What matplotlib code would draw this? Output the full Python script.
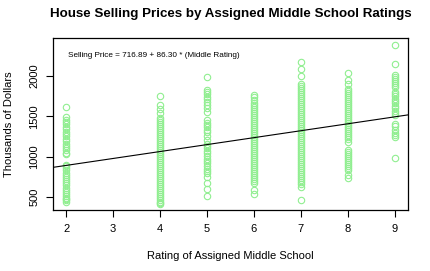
import numpy as np
import matplotlib
matplotlib.use('Agg')
import matplotlib.pyplot as plt
from matplotlib.ticker import FixedLocator

plt.rcParams['font.family'] = ['Liberation Sans', 'DejaVu Sans']

# selling prices (thousands of dollars), grouped by middle school rating
price_r2 = [1615, 1490, 1460, 1430, 1400, 1370, 1340, 1310, 1280, 1250, 1220, 1190, 1160,
            1130, 1100, 1075, 1050, 1035, 900, 880, 855, 830, 800, 775, 750, 720, 695,
            665, 640, 610, 585, 560, 540, 515, 490, 470, 455, 440]
price_r4 = [1747, 1636, 1591, 1541, 1484, 1460, 1435, 1410, 1385, 1360, 1335, 1310, 1285,
            1260, 1235, 1210, 1185, 1160, 1135, 1110, 1085, 1060, 1035, 1010, 985, 960,
            935, 910, 885, 860, 835, 810, 785, 760, 735, 710, 685, 660, 635, 610, 585,
            560, 535, 510, 485, 460, 440, 420, 405]
price_r5 = [1986, 1830, 1805, 1775, 1745, 1710, 1680, 1640, 1600, 1553, 1451, 1420, 1395,
            1365, 1330, 1300, 1250, 1205, 1160, 1130, 1100, 1070, 1040, 1010, 975, 945,
            915, 880, 850, 820, 790, 751, 669, 595, 512]
price_r6 = [1768, 1735, 1698, 1670, 1645, 1620, 1595, 1570, 1545, 1520, 1495, 1470, 1445,
            1420, 1395, 1370, 1345, 1320, 1295, 1270, 1245, 1220, 1195, 1170, 1145, 1120,
            1095, 1070, 1045, 1020, 995, 970, 945, 920, 895, 870, 845, 820, 795, 770, 745,
            720, 695, 669, 586, 537]
price_r7 = [2171, 2089, 2007, 1904, 1880, 1855, 1830, 1805, 1780, 1755, 1730, 1705, 1680,
            1655, 1630, 1605, 1580, 1555, 1530, 1505, 1480, 1455, 1430, 1405, 1380, 1355,
            1330, 1305, 1280, 1255, 1230, 1205, 1180, 1155, 1130, 1105, 1080, 1055, 1030,
            1005, 980, 955, 930, 905, 880, 855, 830, 805, 780, 755, 730, 705, 680, 655,
            627, 463]
price_r8 = [2036, 1954, 1904, 1842, 1815, 1790, 1765, 1740, 1715, 1690, 1665, 1640, 1615,
            1590, 1565, 1540, 1515, 1490, 1465, 1440, 1415, 1390, 1365, 1340, 1315, 1290,
            1265, 1240, 1215, 1183, 1080, 1055, 1030, 1005, 980, 955, 930, 905, 880, 855,
            833, 772, 731]
price_r9 = [2381, 2151, 2015, 1990, 1965, 1940, 1915, 1890, 1862, 1800, 1775, 1750, 1720,
            1690, 1660, 1630, 1600, 1570, 1540, 1513, 1410, 1385, 1330, 1290, 1262, 1245,
            978]
ratings = [2, 4, 5, 6, 7, 8, 9]
prices = [price_r2, price_r4, price_r5, price_r6, price_r7, price_r8, price_r9]

# fitted model
intercept = 716.89
slope = 86.30

fig = plt.figure(figsize=(4.3, 2.71), dpi=100)
ax = fig.add_axes([0.1233, 0.2251, 0.8255, 0.6347])

for r, p in zip(ratings, prices):
    ax.plot(np.full(len(p), r), p, linestyle='none', marker='o', markersize=4.6,
            markerfacecolor='none', markeredgecolor='#90EE90', markeredgewidth=0.8)

ax.set_xlim(1.72, 9.28)
ax.set_ylim(335, 2474)
xs = np.array(ax.get_xlim())
ax.plot(xs, intercept + slope * xs, color='black', linewidth=0.8)

ax.xaxis.set_major_locator(FixedLocator(range(2, 10)))
ax.yaxis.set_major_locator(FixedLocator([500, 1000, 1500, 2000]))
ax.tick_params(direction='out', length=5, width=0.8, labelsize=8, pad=5)
for lab in ax.get_yticklabels():
    lab.set_rotation(90)
    lab.set_va('center')
for s in ax.spines.values():
    s.set_linewidth(0.9)

ax.text(2.04, 2254, 'Selling Price = 716.89 + 86.30 * (Middle Rating)', fontsize=5.9,
        va='center', ha='left')

# R centres the title and x label over the plot region
cx = 0.1233 + 0.8255 / 2
fig.text(cx, 0.948, 'House Selling Prices by Assigned Middle School Ratings',
         fontsize=9.6, fontweight='bold', ha='center', va='center')
fig.text(cx, 0.055, 'Rating of Assigned Middle School', fontsize=8, ha='center', va='center')
fig.text(0.022, 0.5425, 'Thousands of Dollars', fontsize=8, ha='center', va='center',
         rotation=90)

fig.savefig('out.png', dpi=100)
